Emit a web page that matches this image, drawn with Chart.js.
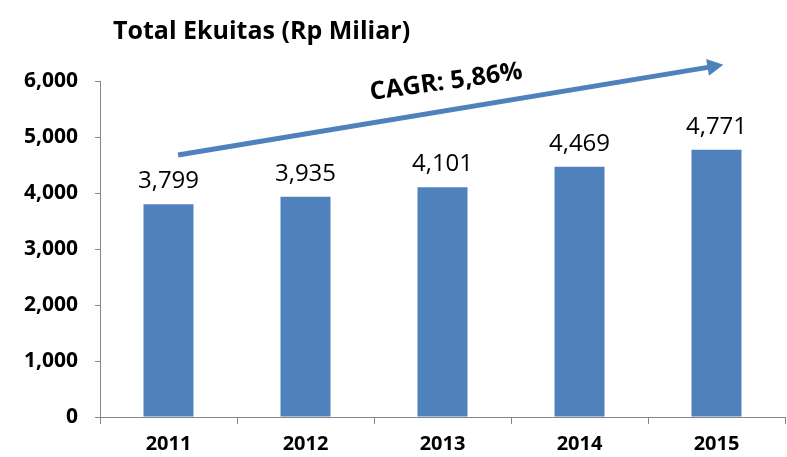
<!DOCTYPE html>
<html>
<head>
<meta charset="utf-8">
<script src="https://cdn.jsdelivr.net/npm/chart.js@4.4.1/dist/chart.umd.min.js"></script>
<style>
  html, body { margin: 0; padding: 0; background: #fff; }
  #wrap { width: 787px; height: 457px; }
</style>
</head>
<body>
<div id="wrap"><canvas id="chart" width="787" height="457"></canvas></div>
<script>
//DATA
const years = ["2011", "2012", "2013", "2014", "2015"];
const equity = [3799, 3935, 4101, 4469, 4771];
const yTicks = [0, 1000, 2000, 3000, 4000, 5000, 6000];
const chartTitle = "Total Ekuitas (Rp Miliar)";
const cagrLabel = "CAGR: 5,86%";
// arrow ends in data space: [category index, value]
const arrowFrom = [0.07, 4680];
const arrowTo = [4.05, 6290];

const FONT = "'Open Sans', Lato, sans-serif";
const BLUE = "#4F81BD";
const AXIS = "#868686";

const fmt = (v) => v.toLocaleString("en-US");

// title, value labels and the CAGR arrow
const extras = {
  id: "extras",
  afterDraw(chart) {
    const ctx = chart.ctx;
    const xs = chart.scales.x;
    const ys = chart.scales.y;
    ctx.save();

    // title
    ctx.fillStyle = "#000";
    ctx.font = "bold 25px " + FONT;
    ctx.textAlign = "left";
    ctx.textBaseline = "alphabetic";
    ctx.fillText(chartTitle, 113, 39);

    // value labels
    ctx.font = "24px " + FONT;
    ctx.textAlign = "center";
    const meta = chart.getDatasetMeta(0);
    meta.data.forEach((bar, i) => {
      ctx.fillText(fmt(equity[i]), bar.x, bar.y - 16);
    });

    // arrow
    const x1 = xs.getPixelForValue(arrowFrom[0]);
    const y1 = ys.getPixelForValue(arrowFrom[1]);
    const x2 = xs.getPixelForValue(arrowTo[0]);
    const y2 = ys.getPixelForValue(arrowTo[1]);
    const ang = Math.atan2(y2 - y1, x2 - x1);
    const head = 16;
    ctx.strokeStyle = BLUE;
    ctx.fillStyle = BLUE;
    ctx.lineWidth = 5;
    ctx.beginPath();
    ctx.moveTo(x1, y1);
    ctx.lineTo(x2 - Math.cos(ang) * head * 0.8, y2 - Math.sin(ang) * head * 0.8);
    ctx.stroke();
    ctx.beginPath();
    ctx.moveTo(x2, y2);
    ctx.lineTo(x2 - Math.cos(ang) * head + Math.sin(ang) * 8.5, y2 - Math.sin(ang) * head - Math.cos(ang) * 8.5);
    ctx.lineTo(x2 - Math.cos(ang) * head - Math.sin(ang) * 8.5, y2 - Math.sin(ang) * head + Math.cos(ang) * 8.5);
    ctx.closePath();
    ctx.fill();

    // CAGR text, tilted a little less than the arrow
    const mx = (x1 + x2) / 2;
    const my = (y1 + y2) / 2;
    ctx.translate(mx + Math.sin(ang) * 28, my - Math.cos(ang) * 28);
    ctx.rotate((-8 * Math.PI) / 180);
    ctx.fillStyle = "#000";
    ctx.font = "bold 25px " + FONT;
    ctx.textAlign = "center";
    ctx.textBaseline = "middle";
    ctx.fillText(cagrLabel, 0, 0);
    ctx.restore();
  },
};

new Chart(document.getElementById("chart"), {
  type: "bar",
  data: {
    labels: years,
    datasets: [
      {
        data: equity,
        backgroundColor: BLUE,
        borderWidth: 0,
        barPercentage: 0.365,
        categoryPercentage: 1,
      },
    ],
  },
  options: {
    responsive: false,
    animation: false,
    layout: { padding: { top: 81, right: 2, left: 0, bottom: 0 } },
    plugins: {
      legend: { display: false },
      tooltip: { enabled: false },
      title: { display: false },
    },
    scales: {
      x: {
        offset: true,
        grid: { offset: true, drawOnChartArea: false, tickLength: 7, color: AXIS },
        border: { color: AXIS },
        ticks: { color: "#000", font: { family: FONT, size: 20, weight: "bold" }, padding: 8 },
        afterFit: (s) => { s.height = 40; },
      },
      y: {
        min: 0,
        max: 6000,
        afterBuildTicks: (s) => { s.ticks = yTicks.map((v) => ({ value: v })); },
        grid: { drawOnChartArea: false, tickLength: 5, color: AXIS },
        border: { color: AXIS },
        ticks: {
          color: "#000",
          font: { family: FONT, size: 21, weight: "bold" },
          padding: 17,
          callback: (v) => fmt(v),
        },
        afterFit: (s) => { s.width = 100; },
      },
    },
  },
  plugins: [extras],
});
</script>
</body>
</html>
